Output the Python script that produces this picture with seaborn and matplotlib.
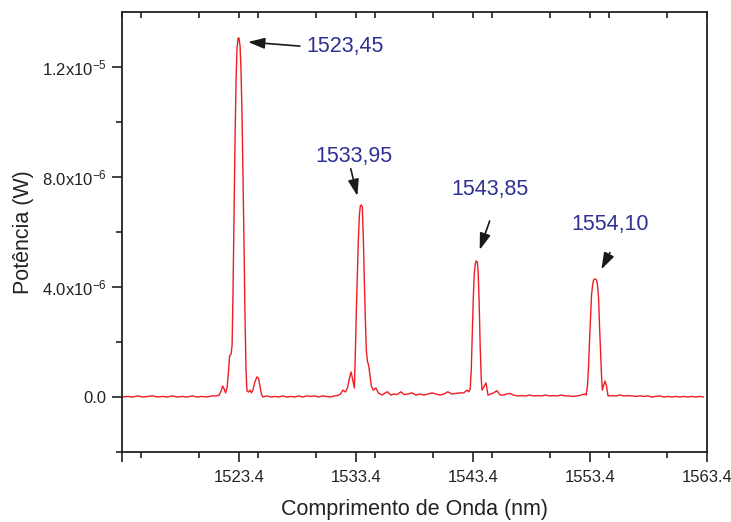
import matplotlib
matplotlib.use("Agg")
import matplotlib.pyplot as plt
from matplotlib.ticker import FixedLocator, MultipleLocator
import seaborn as sns
import pandas as pd
import numpy as np

# ---- data (wavelength in nm, power in units of 1e-6 W) ----
wavelength_nm = [
    1513.45, 1513.88, 1514.31, 1514.73, 1515.16, 1515.58, 1516.01, 1516.43, 1516.86, 1517.28,
    1517.71, 1518.13, 1518.56, 1518.98, 1519.41, 1519.83, 1520.26, 1520.68, 1521.11, 1521.45,
    1521.70, 1521.87, 1522.00, 1522.13, 1522.25, 1522.38, 1522.51, 1522.59, 1522.72, 1522.81,
    1522.89, 1522.98, 1523.06, 1523.15, 1523.23, 1523.32, 1523.40, 1523.49, 1523.57, 1523.66,
    1523.74, 1523.83, 1523.91, 1524.00, 1524.08, 1524.21, 1524.34, 1524.46, 1524.59, 1524.76,
    1524.93, 1525.06, 1525.19, 1525.31, 1525.44, 1525.78, 1526.12, 1526.46, 1526.80, 1527.14,
    1527.48, 1527.82, 1528.16, 1528.50, 1528.84, 1529.18, 1529.52, 1529.86, 1530.20, 1530.54,
    1530.88, 1531.22, 1531.56, 1531.82, 1532.07, 1532.28, 1532.50, 1532.67, 1532.84, 1532.98,
    1533.12, 1533.26, 1533.35, 1533.43, 1533.52, 1533.60, 1533.69, 1533.77, 1533.86, 1533.94,
    1534.03, 1534.11, 1534.20, 1534.28, 1534.37, 1534.49, 1534.62, 1534.71, 1534.88, 1535.10,
    1535.30, 1535.64, 1535.90, 1536.09, 1536.38, 1536.66, 1536.92, 1537.23, 1537.51, 1537.85,
    1538.19, 1538.53, 1538.87, 1539.21, 1539.55, 1539.89, 1540.23, 1540.57, 1540.91, 1541.25,
    1541.59, 1541.93, 1542.27, 1542.61, 1542.89, 1543.04, 1543.16, 1543.25, 1543.33, 1543.42,
    1543.50, 1543.59, 1543.67, 1543.76, 1543.84, 1543.93, 1544.01, 1544.10, 1544.17, 1544.31,
    1544.51, 1544.68, 1544.91, 1545.16, 1545.44, 1545.73, 1546.01, 1546.27, 1546.58, 1546.86,
    1547.20, 1547.54, 1547.88, 1548.22, 1548.56, 1548.90, 1549.24, 1549.58, 1549.92, 1550.26,
    1550.60, 1550.94, 1551.28, 1551.62, 1551.96, 1552.30, 1552.64, 1552.95, 1553.07, 1553.19,
    1553.28, 1553.36, 1553.45, 1553.53, 1553.62, 1553.70, 1553.79, 1553.87, 1553.96, 1554.04,
    1554.13, 1554.21, 1554.30, 1554.38, 1554.45, 1554.55, 1554.68, 1554.81, 1554.94, 1555.28,
    1555.62, 1555.96, 1556.30, 1556.64, 1556.98, 1557.32, 1557.66, 1558.00, 1558.34, 1558.68,
    1559.02, 1559.36, 1559.70, 1560.04, 1560.38, 1560.72, 1561.06, 1561.40, 1561.74, 1562.08,
    1562.42, 1562.76, 1563.10,
]
power_uW = [
    0.00, 0.02, 0.00, 0.04, 0.00, 0.02, 0.04, 0.00, 0.02, 0.00,
    0.04, 0.00, 0.02, 0.00, 0.04, 0.00, 0.02, 0.00, 0.04, 0.04,
    0.07, 0.22, 0.40, 0.29, 0.15, 0.33, 0.98, 1.49, 1.56, 1.89,
    3.89, 6.80, 9.35, 11.53, 12.69, 13.05, 13.05, 12.76, 11.89, 10.25,
    8.07, 5.53, 2.98, 0.98, 0.22, 0.18, 0.25, 0.15, 0.25, 0.55,
    0.73, 0.69, 0.40, 0.11, 0.00, 0.04, 0.00, 0.02, 0.00, 0.04,
    0.00, 0.02, 0.00, 0.04, 0.00, 0.04, 0.02, 0.04, 0.00, 0.04,
    0.02, 0.00, 0.04, 0.05, 0.11, 0.25, 0.18, 0.33, 0.69, 0.91,
    0.62, 0.33, 1.71, 3.16, 4.44, 5.71, 6.62, 6.95, 6.98, 6.91,
    5.71, 4.25, 2.80, 1.71, 1.31, 1.13, 0.69, 0.40, 0.25, 0.33,
    0.15, 0.07, 0.15, 0.19, 0.07, 0.11, 0.09, 0.19, 0.09, 0.11,
    0.15, 0.07, 0.11, 0.07, 0.11, 0.15, 0.11, 0.07, 0.11, 0.19,
    0.11, 0.13, 0.15, 0.15, 0.25, 0.19, 0.29, 0.98, 2.25, 3.53,
    4.44, 4.84, 4.95, 4.91, 4.55, 3.35, 1.89, 0.69, 0.25, 0.36,
    0.51, 0.07, 0.11, 0.15, 0.23, 0.07, 0.07, 0.11, 0.13, 0.07,
    0.04, 0.05, 0.04, 0.07, 0.04, 0.05, 0.04, 0.07, 0.04, 0.05,
    0.04, 0.07, 0.04, 0.04, 0.02, 0.04, 0.07, 0.11, 0.07, 0.44,
    1.16, 2.07, 2.98, 3.71, 4.07, 4.25, 4.29, 4.29, 4.25, 4.07,
    3.60, 2.62, 1.64, 0.80, 0.25, 0.40, 0.58, 0.40, 0.04, 0.05,
    0.04, 0.07, 0.04, 0.05, 0.04, 0.02, 0.04, 0.02, 0.04, 0.00,
    0.02, 0.04, 0.00, 0.02, 0.00, 0.02, 0.00, 0.02, 0.00, 0.02,
    0.00, 0.02, 0.00,
]

# peak annotations: label, arrow tip (nm, 1e-6 W), label position, arrow tail
peak_labels = ["1523,45", "1533,95", "1543,85", "1554,10"]
peak_x = [1524.17, 1533.52, 1543.97, 1554.37]
peak_y = [12.91, 7.31, 5.35, 4.64]
label_x = [1529.18, 1533.26, 1544.82, 1555.10]
label_y = [12.76, 8.73, 7.53, 6.29]
tail_x = [1528.60, 1532.95, 1544.82, 1555.10]
tail_y = [12.76, 8.30, 6.40, 5.25]

x_major = [1513.4, 1523.4, 1533.4, 1543.4, 1553.4, 1563.4]
x_major_labels = ["", "1523.4", "1533.4", "1543.4", "1553.4", "1563.4"]
y_major = [0.0, 4.0e-6, 8.0e-6, 1.2e-5]
y_major_labels = ["0.0", "4.0x10$^{\\mathregular{-6}}$", "8.0x10$^{\\mathregular{-6}}$",
                  "1.2x10$^{\\mathregular{-5}}$"]

# ---- style ----
sns.set_style("ticks")
plt.rcParams["font.family"] = ["Liberation Sans", "DejaVu Sans"]
plt.rcParams["mathtext.fontset"] = "custom"
plt.rcParams["mathtext.rm"] = "Liberation Sans"
plt.rcParams["mathtext.it"] = "Liberation Sans:italic"
plt.rcParams["mathtext.bf"] = "Liberation Sans:bold"

df = pd.DataFrame({"wl": wavelength_nm, "p": np.array(power_uW) * 1e-6})

fig = plt.figure(figsize=(7.31, 5.22), dpi=100)
ax = fig.add_axes([0.1669, 0.1341, 0.8003, 0.8429])

sns.lineplot(data=df, x="wl", y="p", ax=ax, color="#f01c24", linewidth=1.0,
             sort=False, estimator=None)

ax.set_xlim(1513.4, 1563.4)
ax.set_ylim(-2.0e-6, 1.4e-5)

ax.xaxis.set_major_locator(FixedLocator(x_major))
ax.set_xticklabels(x_major_labels)
ax.xaxis.set_minor_locator(MultipleLocator(5))
ax.yaxis.set_major_locator(FixedLocator(y_major))
ax.set_yticklabels(y_major_labels)
ax.yaxis.set_minor_locator(FixedLocator([-2e-6, 2e-6, 6e-6, 1e-5]))

for side in ["top", "right", "left", "bottom"]:
    ax.spines[side].set_visible(True)
    ax.spines[side].set_linewidth(1.3)
    ax.spines[side].set_color("#222222")

ax.tick_params(axis="both", which="major", direction="out", length=7, width=1.2,
               color="#222222", labelsize=12, labelcolor="#222222", pad=4)
ax.tick_params(axis="both", which="minor", direction="out", length=4, width=1.2,
               color="#222222")
ax.tick_params(axis="x", which="major", pad=6)
ax.tick_params(axis="x", which="both", top=True)
ax.tick_params(axis="y", which="both", right=False)
# top ticks point inward and are short
for t in ax.xaxis.get_major_ticks() + ax.xaxis.get_minor_ticks():
    t.tick2line.set_marker(matplotlib.lines.TICKDOWN)
    t.tick2line.set_markersize(4)

ax.set_xlabel("Comprimento de Onda (nm)", fontsize=15.5, color="#222222", labelpad=10)
ax.set_ylabel("Potência (W)", fontsize=15.5, color="#222222", labelpad=6)

for px, py, tx, ty in zip(peak_x, peak_y, tail_x, tail_y):
    ax.annotate("", xy=(px, py * 1e-6), xytext=(tx, ty * 1e-6),
                arrowprops=dict(arrowstyle="-|>,head_length=1.0,head_width=0.33",
                                color="#1a1a1a", lw=1.2, shrinkA=0, shrinkB=0))
ha_list = ["left", "center", "center", "center"]
for lab, lx, ly, ha in zip(peak_labels, label_x, label_y, ha_list):
    ax.text(lx, ly * 1e-6, lab, fontsize=15.5, color="#2e3192", ha=ha, va="center")

fig.savefig("out.png", dpi=100)
